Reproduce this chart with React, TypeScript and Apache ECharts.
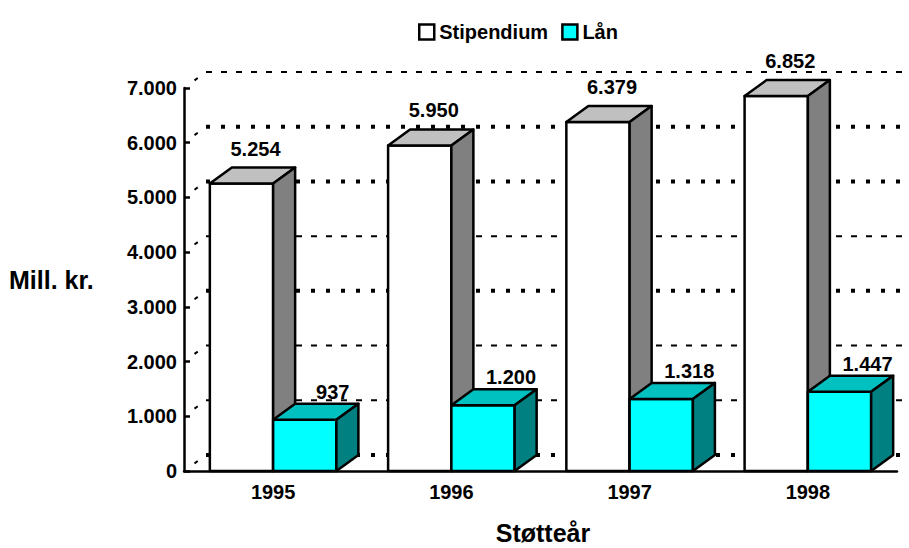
import React, { useEffect, useRef } from "react";
import * as echarts from "echarts";

const categories = ["1995", "1996", "1997", "1998"];
const stipendium = [5254, 5950, 6379, 6852];
const laan = [937, 1200, 1318, 1447];
const yTicks = [0, 1000, 2000, 3000, 4000, 5000, 6000, 7000];
const heavyGrid = [0, 3000, 5000, 6000];

const FONT = "'Liberation Sans', Arial, sans-serif";
const DX = 22;
const DY = 16;

function fmt(v: number): string {
  if (v < 1000) return String(v);
  return `${Math.floor(v / 1000)}.${String(v % 1000).padStart(3, "0")}`;
}

function makeBar(side: "left" | "right", front: string, top: string, sideC: string, labelDX: number, labelDY: number) {
  return (params: any, api: any) => {
    const ci = api.value(0);
    const v = api.value(1);
    const base = api.coord([ci, 0]);
    const tp = api.coord([ci, v]);
    const band = api.size([1, 0])[0];
    const w = band * 0.355;
    const x0 = side === "left" ? base[0] - w : base[0];
    const x1 = x0 + w;
    const yb = base[1];
    const yt = tp[1];
    const stroke = { stroke: "#000", lineWidth: 2.5, lineJoin: "round" };
    return {
      type: "group",
      children: [
        {
          type: "polygon",
          shape: { points: [[x0, yb], [x0, yt], [x1, yt], [x1, yb]] },
          style: { fill: front, ...stroke },
        },
        {
          type: "polygon",
          shape: { points: [[x0, yt], [x0 + DX, yt - DY], [x1 + DX, yt - DY], [x1, yt]] },
          style: { fill: top, ...stroke },
        },
        {
          type: "polygon",
          shape: { points: [[x1, yt], [x1 + DX, yt - DY], [x1 + DX, yb - DY], [x1, yb]] },
          style: { fill: sideC, ...stroke },
        },
        {
          type: "text",
          x: x0 + w / 2 + labelDX,
          y: yt - DY - labelDY,
          style: {
            text: fmt(v),
            fill: "#000",
            font: `bold 20px ${FONT}`,
            textAlign: "center",
            textVerticalAlign: "middle",
          },
        },
      ],
    };
  };
}

export default function App() {
  const ref = useRef<HTMLDivElement>(null);
  useEffect(() => {
    if (!ref.current) return;
    const chart = echarts.init(ref.current, null, { renderer: "svg" });
    chart.setOption({
      animation: false,
      backgroundColor: "#fff",
      textStyle: { fontFamily: FONT },
      grid: { left: 184, right: 12, top: 88, bottom: 77 },
      legend: {
        left: 413,
        top: 17,
        itemWidth: 15,
        itemHeight: 15,
        itemGap: 13,
        textStyle: { fontFamily: FONT, fontWeight: "bold", fontSize: 20, color: "#000" },
        data: [
          { name: "Stipendium", icon: "rect", itemStyle: { color: "#fff", borderColor: "#000", borderWidth: 2.5 } },
          { name: "Lån", icon: "rect", itemStyle: { color: "#00ffff", borderColor: "#000", borderWidth: 2.5 } },
        ],
      },
      xAxis: {
        type: "category",
        data: categories,
        axisLine: { lineStyle: { color: "#000", width: 2.5 } },
        axisTick: { inside: true, length: 6, lineStyle: { color: "#000", width: 2.5 } },
        axisLabel: { color: "#000", fontWeight: "bold", fontSize: 20, fontFamily: FONT, margin: 11 },
        splitLine: { show: false },
      },
      yAxis: {
        type: "value",
        min: 0,
        max: 7000,
        interval: 1000,
        axisLine: { show: true, lineStyle: { color: "#000", width: 2.5 } },
        axisTick: { show: true, inside: true, length: 6, lineStyle: { color: "#000", width: 2.5 } },
        axisLabel: {
          color: "#000",
          fontWeight: "bold",
          fontSize: 20,
          fontFamily: FONT,
          margin: 7,
          formatter: (v: number) => fmt(v),
        },
        splitLine: { show: false },
      },
      graphic: [
        {
          type: "text",
          left: 9,
          top: 267,
          style: { text: "Mill. kr.", font: `bold 25px ${FONT}`, fill: "#000" },
        },
        {
          type: "text",
          x: 543,
          y: 533,
          style: {
            text: "Støtteår",
            font: `bold 25px ${FONT}`,
            fill: "#000",
            textAlign: "center",
            textVerticalAlign: "middle",
          },
        },
      ],
      series: [
        {
          type: "custom",
          name: "grid",
          silent: true,
          z: 1,
          data: yTicks.map((v) => [0, v]),
          renderItem: (params: any, api: any) => {
            const v = api.value(1);
            const p = api.coord([0, v]);
            const cs = params.coordSys;
            const y = p[1];
            const heavy = heavyGrid.indexOf(v) >= 0;
            const st = heavy
              ? { stroke: "#000", lineWidth: 4, lineDash: [4, 11] }
              : { stroke: "#000", lineWidth: 2, lineDash: [6, 9] };
            return {
              type: "group",
              children: [
                {
                  type: "line",
                  shape: { x1: cs.x + DX, y1: y - DY, x2: cs.x + cs.width + DX + 20, y2: y - DY },
                  style: st,
                },
                {
                  type: "line",
                  shape: { x1: cs.x, y1: y, x2: cs.x + DX, y2: y - DY },
                  style: { stroke: "#000", lineWidth: 2, lineDash: [4, 40], lineDashOffset: -13 },
                },
              ],
            };
          },
        },
        {
          type: "custom",
          name: "Stipendium",
          z: 3,
          itemStyle: { color: "#fff", borderColor: "#000" },
          data: stipendium.map((v, i) => [i, v]),
          renderItem: makeBar("left", "#ffffff", "#c0c0c0", "#808080", 14, 19),
        },
        {
          type: "custom",
          name: "Lån",
          z: 4,
          itemStyle: { color: "#00ffff", borderColor: "#000" },
          data: laan.map((v, i) => [i, v]),
          renderItem: makeBar("right", "#00ffff", "#00c0c0", "#008080", 28, 12),
        },
      ],
    });
    return () => chart.dispose();
  }, []);
  return <div ref={ref} style={{ width: 909, height: 548, position: "absolute", left: 0, top: 0 }} />;
}
